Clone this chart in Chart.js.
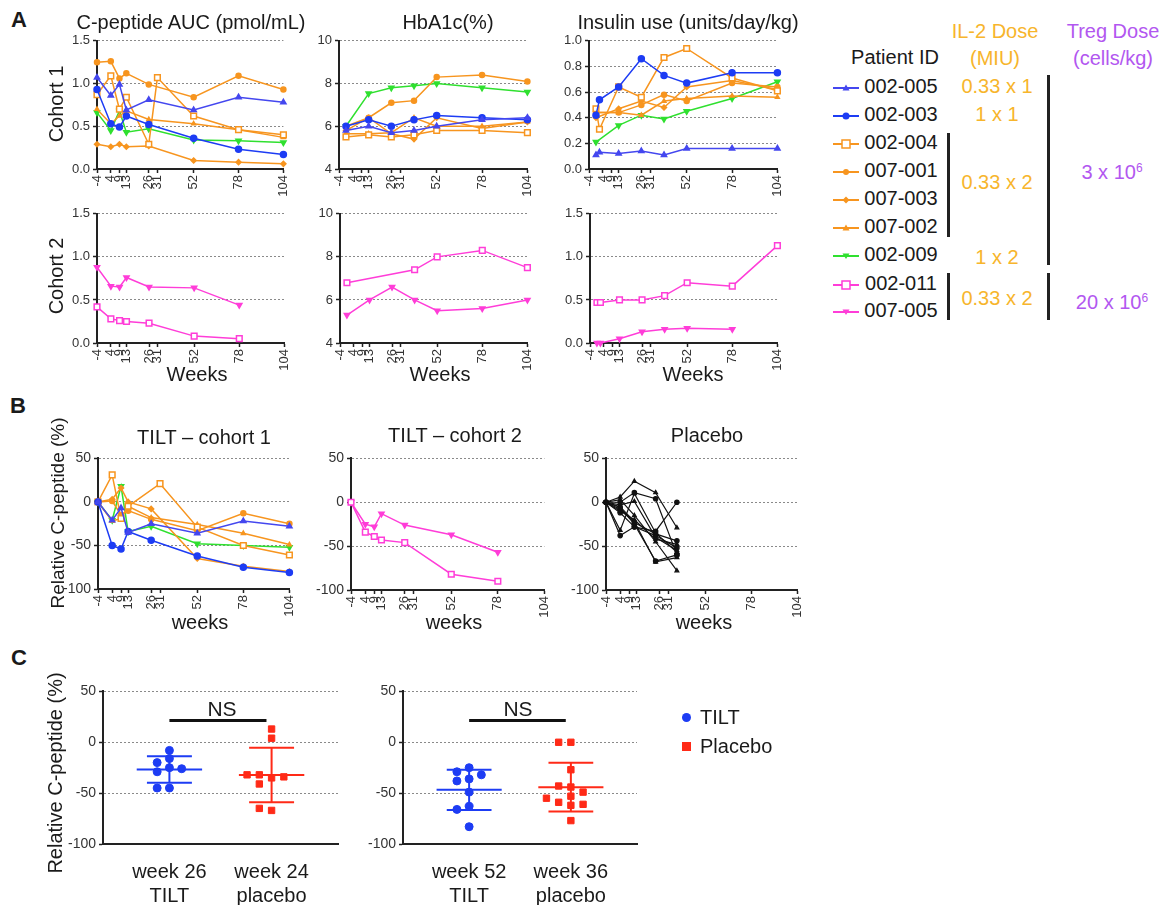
<!DOCTYPE html>
<html>
<head>
<meta charset="utf-8">
<script src="https://cdn.jsdelivr.net/npm/chart.js@4.4.1/dist/chart.umd.min.js"></script>
<style>
  body { margin: 0; background: #fff; font-family: "Liberation Sans", Arial, sans-serif; }
  #fig { position: relative; width: 1168px; height: 905px; overflow: hidden; }
  .t { position: absolute; white-space: nowrap; color: #1a1a1a; line-height: 1; }
  canvas { position: absolute; }
  .bar { position: absolute; background: #222; width: 3px; }
</style>
</head>
<body>
<div id="fig"></div>
<script>
// ---------- data ----------
const tickWeeks = [-4, 4, 9, 13, 26, 31, 52, 78, 104];

// A: C-peptide AUC (pmol/mL)
const cpepWeeks = [-4, 4, 9, 13, 26, 31, 52, 78, 104];
const cpep002005 = [1.07, 0.86, 0.99, 0.69, 0.81, null, 0.69, 0.84, 0.78];
const cpep002003 = [0.93, 0.53, 0.49, 0.62, 0.52, null, 0.36, 0.23, 0.17];
const cpep002004 = [0.87, 1.09, 0.70, 0.84, 0.29, 1.07, 0.62, 0.46, 0.40];
const cpep007001 = [1.25, 1.26, 1.06, 1.12, 0.99, null, 0.84, 1.09, 0.93];
const cpep007003 = [0.29, 0.26, 0.29, 0.26, 0.27, null, 0.10, 0.08, 0.06];
const cpep007002 = [0.70, 0.53, 0.62, 0.68, 0.58, null, 0.53, 0.46, 0.37];
const cpep002009 = [0.66, 0.45, 0.68, 0.43, 0.47, null, 0.34, 0.33, 0.31];
const cpep002011 = [0.42, 0.28, 0.26, 0.25, 0.23, null, 0.08, 0.05, null];
const cpep007005 = [0.88, 0.66, 0.65, 0.76, 0.65, null, 0.64, 0.44, null];

// A: HbA1c (%)
const hbWeeks = [0, 13, 26, 39, 52, 78, 104];
const hb002005 = [5.8, 6.0, 5.7, 5.8, 6.0, 6.3, 6.4];
const hb002003 = [6.0, 6.3, 6.0, 6.3, 6.5, 6.4, 6.3];
const hb002004 = [5.5, 5.6, 5.5, 5.6, 5.8, 5.8, 5.7];
const hb007001 = [6.0, 6.4, 7.1, 7.2, 8.3, 8.4, 8.1];
const hb007003 = [5.8, 6.4, 5.65, 5.4, 6.4, 5.9, 6.2];
const hb007002 = [5.65, 5.65, 5.7, 6.4, 6.0, 6.0, 6.2];
const hb002009 = [6.0, 7.53, 7.8, 7.9, 8.0, 7.8, 7.6];
const hb002011 = [6.8, null, null, 7.4, 8.0, 8.3, 7.5];
const hb007005 = [5.3, 6.0, 6.6, 6.0, 5.5, 5.6, 6.0];

// A: insulin use (units/day/kg)
const insWeeks = [0, 2, 13, 26, 39, 52, 78, 104];
const ins002005 = [0.11, 0.13, 0.12, 0.14, 0.11, 0.16, 0.16, 0.16];
const ins002003 = [0.42, 0.54, 0.64, 0.86, 0.73, 0.67, 0.75, 0.75];
const ins002004 = [0.47, 0.31, 0.64, 0.56, 0.87, 0.94, 0.71, 0.61];
const ins007001 = [0.44, null, 0.44, 0.50, 0.58, 0.53, 0.67, 0.64];
const ins007003 = [0.40, null, 0.47, 0.53, 0.48, 0.64, 0.69, 0.62];
const ins007002 = [0.44, null, 0.44, 0.42, 0.53, 0.55, 0.57, 0.56];
const ins002009 = [0.21, null, 0.34, 0.42, 0.39, 0.45, 0.55, 0.68];
const ins002011 = [0.47, 0.47, 0.50, 0.50, 0.55, 0.70, 0.66, 1.13];
const ins007005 = [0.00, 0.00, 0.05, 0.13, 0.16, 0.17, 0.16, null];

// B: relative C-peptide (%)
const relWeeks = [-4, 4, 9, 13, 26, 31, 52, 78, 104];
const rel002005 = [0, -21, -7, -35, -25, null, -36, -22, -28];
const rel002003 = [0, -50, -54, -34, -44, null, -62, -75, -81];
const rel002004 = [0, 31, -19, -5, null, 21, -29, -50, -61];
const rel007001 = [0, 1, -15, -10, -20, null, -33, -13, -25];
const rel007003 = [0, 3, 16, 0, -8, null, -65, -74, -80];
const rel007002 = [0, -22, -19, -5, -18, null, -26, -36, -49];
const rel002009 = [0, -21, 18, -34, -28, null, -48, -50, -52];
const rel002011 = [0, -34, -39, -43, -46, null, -82, -90, null];
const rel007005 = [0, -25, -28, -13, -26, null, -37, -57, null];

const placeboWeeks = [-4, 4, 12, 24, 36];
const placeboLines = [
  [0, 6, 24, 11, -29],
  [0, 0, 11, 4, -60],
  [0, -3, 1, -40, -55],
  [0, -38, -28, -33, 0],
  [0, -5, -22, -68, -63],
  [0, -6, -25, -67, -60],
  [0, -10, -20, -42, -48],
  [0, -12, -28, -38, -52],
  [0, 3, -15, -45, -78],
  [0, -8, -23, -36, -44],
  [0, -32, 10, -35, -57]
];

// C: relative C-peptide (%) per subject
const cLeftCats = [['week 26', 'TILT'], ['week 24', 'placebo']];
const cRightCats = [['week 52', 'TILT'], ['week 36', 'placebo']];
const week26Tilt = [-8, -16, -20, -25, -26, -29, -45, -45];
const week24Placebo = [13, 4, -35, -32, -34, -32, -41, -67, -65];
const week52Tilt = [-25, -29, -36, -32, -38, -49, -63, -66, -83];
const week36Placebo = [0, 0, -27, -44, -43, -49, -53, -59, -55, -62, -61, -77];

// ---------- styles ----------
const BLUE = '#1d3cf4', BLUE2 = '#4447ef', ORANGE = '#f7951f', GREEN = '#2fe02f', PINK = '#ff3dd8';
const RED = '#ff2a17';
const styles = {
  '002-005': { color: BLUE2, shape: 'triangle', r: 3 },
  '002-003': { color: BLUE, shape: 'circle', r: 3 },
  '002-004': { color: ORANGE, shape: 'rect', r: 4, open: true },
  '007-001': { color: ORANGE, shape: 'circle', r: 2.5 },
  '007-003': { color: ORANGE, shape: 'rectRot', r: 2.5 },
  '007-002': { color: ORANGE, shape: 'triangle', r: 2.2 },
  '002-009': { color: GREEN, shape: 'triangle', r: 3, rot: 180 },
  '002-011': { color: PINK, shape: 'rect', r: 4, open: true },
  '007-005': { color: PINK, shape: 'triangle', r: 3, rot: 180 }
};

Chart.defaults.font.family = '"Liberation Sans", Arial, sans-serif';
Chart.defaults.animation = false;
Chart.defaults.plugins.legend.display = false;
Chart.defaults.plugins.tooltip.enabled = false;

const fig = document.getElementById('fig');

function txt(s, x, y, size, o) {
  o = o || {};
  const d = document.createElement('div');
  d.className = 't';
  d.innerHTML = s;
  d.style.left = x + 'px';
  d.style.top = y + 'px';
  d.style.fontSize = size + 'px';
  d.style.transform = 'translate(-50%,-50%)' + (o.rot ? ' rotate(-90deg)' : '');
  if (o.color) d.style.color = o.color;
  if (o.bold) d.style.fontWeight = 'bold';
  fig.appendChild(d);
}

function vbar(x, y1, y2) {
  const d = document.createElement('div');
  d.className = 'bar';
  d.style.left = (x - 1.5) + 'px';
  d.style.top = y1 + 'px';
  d.style.height = (y2 - y1) + 'px';
  fig.appendChild(d);
}

// put a chart so that its plot area lands on box (page pixels)
function place(box, cfg, m) {
  const c = document.createElement('canvas');
  const w = box.r - box.l + m.L + m.R, h = box.b - box.t + m.T + m.B;
  c.width = w; c.height = h;
  c.style.left = (box.l - m.L) + 'px';
  c.style.top = (box.t - m.T) + 'px';
  c.style.width = w + 'px';
  c.style.height = h + 'px';
  fig.appendChild(c);
  cfg.options.responsive = false;
  cfg.options.layout = { padding: { top: m.T, right: m.R, left: 0, bottom: 0 } };
  cfg.options.scales.y.afterFit = s => { s.width = m.L; };
  cfg.options.scales.x.afterFit = s => { s.height = m.B; };
  return new Chart(c, cfg);
}

function weekAxis() {
  return {
    type: 'linear', min: -4, max: 104,
    afterBuildTicks: s => { s.ticks = tickWeeks.map(v => ({ value: v })); },
    ticks: { minRotation: 90, maxRotation: 90, autoSkip: false, font: { size: 13 }, color: '#333', padding: 2 },
    grid: { drawOnChartArea: false, drawTicks: true, tickLength: 4, tickColor: '#222', tickWidth: 1.5 },
    border: { color: '#222', width: 2 }
  };
}

function valAxis(min, max, step, dec, size) {
  return {
    min: min, max: max,
    ticks: { stepSize: step, font: { size: size || 13 }, color: '#333', padding: 3,
             callback: v => v.toFixed(dec) },
    grid: { color: '#8a8a8a', lineWidth: 1, tickLength: 4, tickColor: '#222', tickWidth: 1.5, tickBorderDash: [] },
    border: { color: '#222', width: 2, dash: [2, 2] }
  };
}

function pts(weeks, vals) {
  return weeks.map((w, i) => ({ x: w, y: vals[i] })).filter(p => p.y !== null);
}

function ds(id, weeks, vals) {
  const s = styles[id];
  return {
    data: pts(weeks, vals),
    borderColor: s.color,
    backgroundColor: s.open ? '#fff' : s.color,
    pointBorderColor: s.color,
    pointBackgroundColor: s.open ? '#fff' : s.color,
    pointStyle: s.shape, pointRadius: s.r, pointRotation: s.rot || 0,
    borderWidth: 1.5, pointBorderWidth: 1.5, tension: 0, clip: false
  };
}

const M = { L: 45, R: 12, T: 10, B: 40 };

function lineChart(box, weeks, series, yAx) {
  place(box, {
    type: 'line',
    data: { datasets: series.map(([id, vals]) => ds(id, weeks, vals)) },
    options: { scales: { x: weekAxis(), y: yAx } }
  }, M);
}

// ---------- panel A ----------
lineChart({ l: 97, r: 289, t: 40, b: 169 }, cpepWeeks, [
  ['002-005', cpep002005], ['002-003', cpep002003], ['002-004', cpep002004],
  ['007-001', cpep007001], ['007-003', cpep007003], ['007-002', cpep007002], ['002-009', cpep002009]
], valAxis(0, 1.5, 0.5, 1));

lineChart({ l: 339, r: 533, t: 40, b: 169 }, hbWeeks, [
  ['002-005', hb002005], ['002-003', hb002003], ['002-004', hb002004],
  ['007-001', hb007001], ['007-003', hb007003], ['007-002', hb007002], ['002-009', hb002009]
], valAxis(4, 10, 2, 0));

lineChart({ l: 589, r: 783, t: 40, b: 169 }, insWeeks, [
  ['002-005', ins002005], ['002-003', ins002003], ['002-004', ins002004],
  ['007-001', ins007001], ['007-003', ins007003], ['007-002', ins007002], ['002-009', ins002009]
], valAxis(0, 1, 0.2, 1));

lineChart({ l: 97, r: 290, t: 213, b: 343 }, cpepWeeks, [
  ['002-011', cpep002011], ['007-005', cpep007005]
], valAxis(0, 1.5, 0.5, 1));

lineChart({ l: 340, r: 533, t: 213, b: 343 }, hbWeeks, [
  ['002-011', hb002011], ['007-005', hb007005]
], valAxis(4, 10, 2, 0));

lineChart({ l: 590, r: 783, t: 213, b: 343 }, insWeeks, [
  ['002-011', ins002011], ['007-005', ins007005]
], valAxis(0, 1.5, 0.5, 1));

// ---------- panel B ----------
lineChart({ l: 98, r: 295, t: 457, b: 589 }, relWeeks, [
  ['002-005', rel002005], ['002-003', rel002003], ['002-004', rel002004],
  ['007-001', rel007001], ['007-003', rel007003], ['007-002', rel007002], ['002-009', rel002009]
], valAxis(-100, 50, 50, 0, 14));

lineChart({ l: 351, r: 550, t: 457, b: 590 }, relWeeks, [
  ['002-011', rel002011], ['007-005', rel007005]
], valAxis(-100, 50, 50, 0, 14));

place({ l: 606, r: 803, t: 457, b: 590 }, {
  type: 'line',
  data: {
    datasets: placeboLines.map((vals, i) => ({
      data: pts(placeboWeeks, vals),
      borderColor: '#111', backgroundColor: '#111',
      pointStyle: i % 2 ? 'circle' : 'triangle', pointRadius: 2.2,
      borderWidth: 1.2, tension: 0, clip: false
    }))
  },
  options: { scales: { x: weekAxis(), y: valAxis(-100, 50, 50, 0, 14) } }
}, M);

// ---------- panel C ----------
function swarm(vals, step, gap) {
  const placed = [];
  return vals.map(v => {
    let off = 0;
    for (let k = 0; k < 12; k++) {
      off = (k % 2 ? -1 : 1) * Math.ceil(k / 2) * step;
      if (!placed.some(p => Math.abs(p.v - v) < gap && Math.abs(p.off - off) < step * 0.9)) break;
    }
    placed.push({ v: v, off: off });
    return off;
  });
}

function stats(vals) {
  const mean = vals.reduce((a, b) => a + b, 0) / vals.length;
  const sd = Math.sqrt(vals.reduce((a, b) => a + (b - mean) * (b - mean), 0) / (vals.length - 1));
  return { mean: mean, sd: sd };
}

const meanSdPlugin = {
  id: 'meanSd',
  beforeDatasetsDraw(chart) {
    const { ctx, scales: { x, y } } = chart;
    ctx.save();
    ctx.lineWidth = 2;
    chart.data.datasets.forEach((d, i) => {
      const s = stats(d.data.map(p => p.y));
      const X = u => x.getPixelForValue(i + u);
      const hi = y.getPixelForValue(s.mean + s.sd), lo = y.getPixelForValue(s.mean - s.sd);
      const my = y.getPixelForValue(s.mean);
      ctx.strokeStyle = d.borderColor;
      ctx.beginPath();
      ctx.moveTo(X(-0.32), my); ctx.lineTo(X(0.32), my);
      ctx.moveTo(X(-0.22), hi); ctx.lineTo(X(0.22), hi);
      ctx.moveTo(X(-0.22), lo); ctx.lineTo(X(0.22), lo);
      ctx.moveTo(X(0), hi); ctx.lineTo(X(0), lo);
      ctx.stroke();
    });
    // NS comparison bar
    ctx.strokeStyle = '#111';
    ctx.lineWidth = 3;
    const by = y.getPixelForValue(21.5);
    ctx.beginPath();
    ctx.moveTo(x.getPixelForValue(0), by);
    ctx.lineTo(x.getPixelForValue(0.95), by);
    ctx.stroke();
    ctx.restore();
  }
};

function dotChart(box, cats, tilt, placebo) {
  const mk = (vals, i) => {
    const off = swarm(vals, 0.12, 8);
    return vals.map((v, k) => ({ x: i + off[k], y: v }));
  };
  place(box, {
    type: 'scatter',
    data: {
      datasets: [
        { data: mk(tilt, 0), borderColor: BLUE, backgroundColor: BLUE, pointStyle: 'circle', pointRadius: 4, clip: false },
        { data: mk(placebo, 1), borderColor: RED, backgroundColor: RED, pointStyle: 'rect', pointRadius: 4.5, clip: false }
      ]
    },
    options: {
      scales: {
        x: {
          type: 'linear', min: -0.65, max: 1.65,
          afterBuildTicks: s => { s.ticks = [{ value: 0 }, { value: 1 }]; },
          ticks: { callback: (v) => cats[v], font: { size: 20 }, color: '#1a1a1a', padding: 8, maxRotation: 0 },
          grid: { display: false },
          border: { color: '#222', width: 2 }
        },
        y: valAxis(-100, 50, 50, 0, 14)
      }
    },
    plugins: [meanSdPlugin]
  }, { L: 50, R: 10, T: 10, B: 62 });
}

dotChart({ l: 103, r: 338, t: 690, b: 844 }, cLeftCats, week26Tilt, week24Placebo);
dotChart({ l: 403, r: 637, t: 690, b: 844 }, cRightCats, week52Tilt, week36Placebo);

// ---------- text ----------
txt('A', 19, 20, 22, { bold: true });
txt('B', 18, 406, 22, { bold: true });
txt('C', 19, 658, 22, { bold: true });

txt('C-peptide AUC (pmol/mL)', 191, 22, 20);
txt('HbA1c(%)', 448, 22, 20);
txt('Insulin use (units/day/kg)', 688, 22, 20);
txt('Cohort 1', 56, 104, 20, { rot: true });
txt('Cohort 2', 56, 276, 20, { rot: true });
txt('Weeks', 197, 374, 20);
txt('Weeks', 440, 374, 20);
txt('Weeks', 693, 374, 20);

txt('TILT \u2013 cohort 1', 204, 437, 20);
txt('TILT \u2013 cohort 2', 455, 435, 20);
txt('Placebo', 707, 435, 20);
txt('Relative C-peptide (%)', 57, 513, 19, { rot: true });
txt('weeks', 200, 622, 20);
txt('weeks', 454, 622, 20);
txt('weeks', 704, 622, 20);

txt('Relative C-peptide (%)', 55, 773, 20, { rot: true });
txt('NS', 222, 708, 21);
txt('NS', 518, 708, 21);

// C legend
const cLeg = [['TILT', 717, 'circle', BLUE], ['Placebo', 746, 'rect', RED]];
cLeg.forEach(([name, y, shape, col]) => {
  const d = document.createElement('div');
  d.style.cssText = 'position:absolute;left:' + 682 + 'px;top:' + (y - 4.5) + 'px;width:9px;height:9px;background:' + col +
    (shape === 'circle' ? ';border-radius:50%' : '');
  fig.appendChild(d);
  const t = document.createElement('div');
  t.className = 't';
  t.style.cssText += ';left:700px;top:' + (y - 10) + 'px;font-size:20px';
  t.textContent = name;
  fig.appendChild(t);
});

// A legend: patient IDs
const IL2 = '#f7b52c', TREG = '#b257f0';
txt('Patient ID', 895, 57, 20);
txt('IL-2 Dose', 995, 31, 20, { color: IL2 });
txt('(MIU)', 995, 58, 20, { color: IL2 });
txt('Treg Dose', 1113, 31, 20, { color: TREG });
txt('(cells/kg)', 1113, 58, 20, { color: TREG });

const legendIds = ['002-005', '002-003', '002-004', '007-001', '007-003', '007-002', '002-009', '002-011', '007-005'];
const legendY = [86, 114, 142, 170, 198, 226, 254, 283, 310];

function icon(s) {
  const c = s.color, f = s.open ? '#fff' : c;
  let m = '';
  if (s.shape === 'circle') m = '<circle cx="13" cy="6" r="' + (s.r + 0.5) + '" fill="' + c + '"/>';
  else if (s.shape === 'rect') m = '<rect x="9" y="2" width="8" height="8" fill="' + f + '" stroke="' + c + '" stroke-width="1.5"/>';
  else if (s.shape === 'rectRot') m = '<polygon points="13,2.5 16.5,6 13,9.5 9.5,6" fill="' + c + '"/>';
  else if (s.rot) m = '<polygon points="9.5,3.5 16.5,3.5 13,9" fill="' + c + '"/>';
  else m = '<polygon points="13,2.5 16.5,8.5 9.5,8.5" fill="' + c + '"/>';
  return '<svg width="26" height="12"><line x1="0" y1="6" x2="26" y2="6" stroke="' + c + '" stroke-width="2"/>' + m + '</svg>';
}

legendIds.forEach((id, i) => {
  const d = document.createElement('div');
  d.style.cssText = 'position:absolute;left:833px;top:' + (legendY[i] - 6) + 'px;width:26px;height:12px';
  d.innerHTML = icon(styles[id]);
  fig.appendChild(d);
  txt(id, 901, legendY[i], 20);
});

txt('0.33 x 1', 997, 86, 20, { color: IL2 });
txt('1 x 1', 997, 114, 20, { color: IL2 });
txt('0.33 x 2', 997, 182, 20, { color: IL2 });
txt('1 x 2', 997, 257, 20, { color: IL2 });
txt('0.33 x 2', 997, 298, 20, { color: IL2 });
txt('3 x 10<sup style="font-size:12px">6</sup>', 1112, 172, 20, { color: TREG });
txt('20 x 10<sup style="font-size:12px">6</sup>', 1112, 302, 20, { color: TREG });

vbar(948, 133, 237);
vbar(948, 273, 320);
vbar(1048, 75, 265);
vbar(1048, 273, 320);
</script>
</body>
</html>
